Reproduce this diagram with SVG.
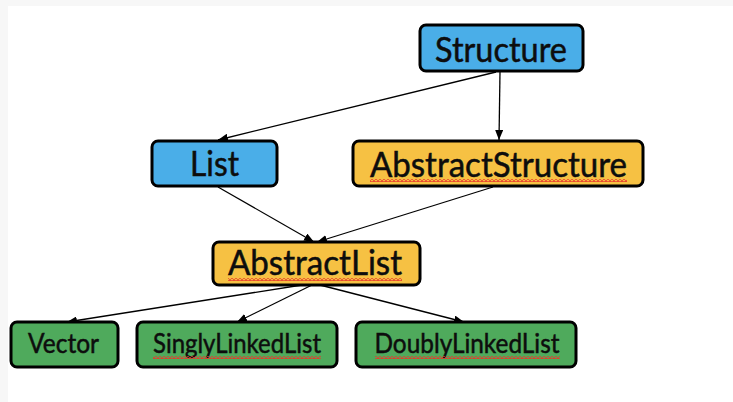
<svg xmlns="http://www.w3.org/2000/svg" width="733" height="402" viewBox="0 0 733 402">
  <style>
    .box { stroke: #000; stroke-width: 3; }
    .blue { fill: #4aaee8; }
    .orange { fill: #f6c143; }
    .green { fill: #4faa5c; }
    .lbl { font-family: Lato, "Open Sans", sans-serif; fill: #0d0d0d; text-anchor: middle; stroke: #0d0d0d; stroke-width: 0.5; }
    .big { font-size: 34px; }
    .small { font-size: 27px; }
    .edge { stroke: #000; stroke-width: 1.3; fill: none; marker-end: url(#head); }
    .squig { fill: url(#wave); }
  </style>
  <defs>
    <marker id="head" viewBox="0 0 10 8" refX="10" refY="4" markerWidth="10" markerHeight="8" markerUnits="userSpaceOnUse" orient="auto">
      <path d="M0,0 L10,4 L0,8 Z" fill="#000"/>
    </marker>
    <pattern id="wave" width="4" height="3" patternUnits="userSpaceOnUse">
      <polyline points="0,2.5 2,0.5 4,2.5" fill="none" stroke="#e8392c" stroke-width="1.1"/>
    </pattern>
  </defs>

  <!-- page background -->
  <rect width="733" height="402" fill="#f7f7f7"/>
  <rect x="8" y="6" width="725" height="396" fill="#fff"/>

  <!-- connectors -->
  <g id="edges">
    <line class="edge" x1="496" y1="72" x2="218" y2="140"/>
    <line class="edge" x1="500" y1="72" x2="499" y2="140"/>
    <line class="edge" x1="218" y1="187" x2="314" y2="242"/>
    <line class="edge" x1="493" y1="187" x2="317" y2="242"/>
    <line class="edge" x1="302" y1="285" x2="67" y2="322"/>
    <line class="edge" x1="312" y1="285" x2="237" y2="322"/>
    <line class="edge" x1="320" y1="285" x2="464" y2="322"/>
  </g>

  <g id="structure">
    <rect class="box blue" x="420" y="25" width="163" height="46" rx="6"/>
    <text class="lbl big" x="501" y="62" textLength="132" lengthAdjust="spacingAndGlyphs">Structure</text>
  </g>

  <g id="list">
    <rect class="box blue" x="152" y="141" width="125" height="45" rx="6"/>
    <text class="lbl big" x="214.5" y="176" textLength="49" lengthAdjust="spacingAndGlyphs">List</text>
  </g>

  <g id="abstract-structure">
    <rect class="box orange" x="353" y="141" width="290" height="45" rx="6"/>
    <text class="lbl big" x="498.5" y="177" textLength="257" lengthAdjust="spacingAndGlyphs">AbstractStructure</text>
    <rect class="squig" x="370" y="179" width="257" height="3"/>
  </g>

  <g id="abstract-list">
    <rect class="box orange" x="213" y="242" width="207" height="43" rx="6"/>
    <text class="lbl big" x="315" y="275" textLength="174" lengthAdjust="spacingAndGlyphs">AbstractList</text>
    <rect class="squig" x="228" y="278" width="174" height="3"/>
  </g>

  <g id="vector">
    <rect class="box green" x="11" y="322" width="107" height="45" rx="6"/>
    <text class="lbl small" x="63.5" y="353" textLength="71" lengthAdjust="spacingAndGlyphs">Vector</text>
  </g>

  <g id="singly-linked-list">
    <rect class="box green" x="137" y="322" width="200" height="45" rx="6"/>
    <text class="lbl small" x="237" y="353" textLength="168" lengthAdjust="spacingAndGlyphs">SinglyLinkedList</text>
    <rect class="squig" x="153" y="356" width="168" height="3"/>
  </g>

  <g id="doubly-linked-list">
    <rect class="box green" x="356" y="322" width="220" height="45" rx="6"/>
    <text class="lbl small" x="467" y="353" textLength="185" lengthAdjust="spacingAndGlyphs">DoublyLinkedList</text>
    <rect class="squig" x="375" y="356" width="185" height="3"/>
  </g>
</svg>
